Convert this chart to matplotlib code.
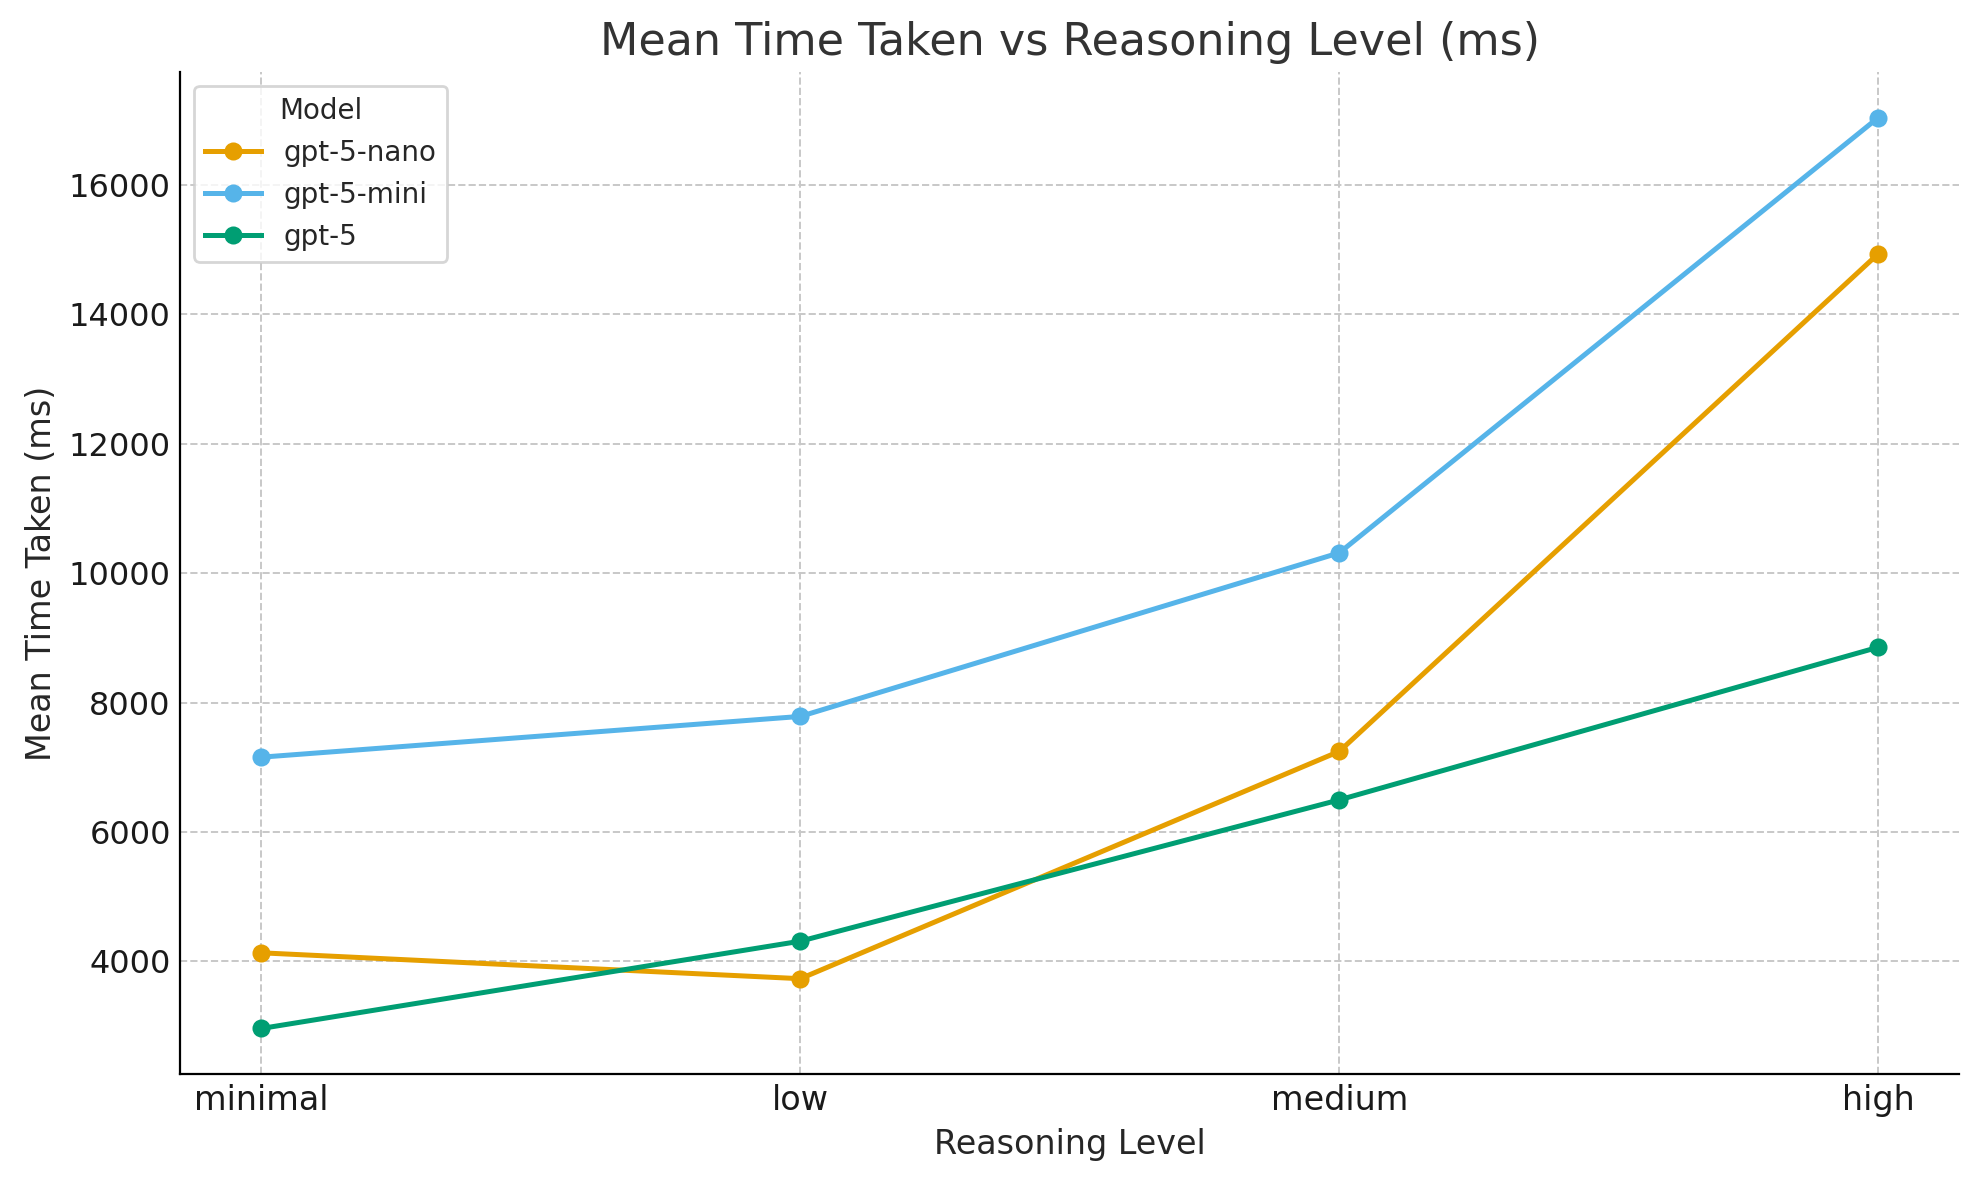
import matplotlib.pyplot as plt

levels = ["minimal", "low", "medium", "high"]
nano = [4130, 3730, 7245, 14940]
mini = [7155, 7785, 10315, 17045]
full = [2960, 4310, 6495, 8855]

series = [
    ("gpt-5-nano", nano, "#E69F00"),
    ("gpt-5-mini", mini, "#56B4E9"),
    ("gpt-5", full, "#009E73"),
]

plt.rcParams["font.family"] = "DejaVu Sans"
plt.rcParams["text.color"] = "#262626"

fig = plt.figure(figsize=(9.895, 5.9), dpi=200)
ax = fig.add_axes([0.0912, 0.0898, 0.8988, 0.8492])

for name, vals, col in series:
    ax.plot(levels, vals, marker="o", color=col, linewidth=1.8, markersize=5.5, label=name)

ax.grid(True, linestyle="--", color="#c8c8c8", linewidth=0.7)
ax.set_axisbelow(True)
for s in ["top", "right"]:
    ax.spines[s].set_visible(False)
ax.tick_params(length=0, labelcolor="#1a1a1a")
ax.tick_params(axis="x", labelsize=12)
ax.tick_params(axis="y", labelsize=11.5)

ax.set_title("Mean Time Taken vs Reasoning Level (ms)", fontsize=16, color="#333333")
ax.set_xlabel("Reasoning Level", fontsize=12, color="#262626")
ax.set_ylabel("Mean Time Taken (ms)", fontsize=12, color="#262626")

leg = ax.legend(title="Model", loc="upper left", fontsize=10, title_fontsize=10)
leg.get_frame().set_edgecolor("#cccccc")

fig.savefig("out.png", dpi=200)
